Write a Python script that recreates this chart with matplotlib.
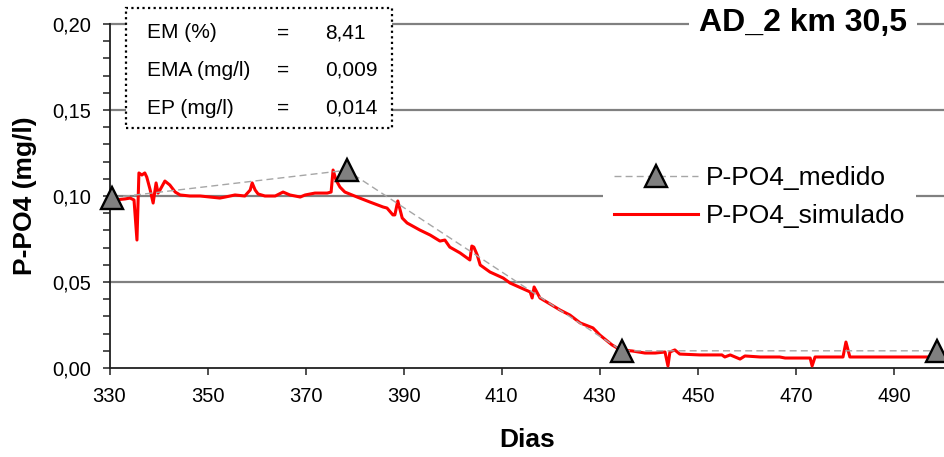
import matplotlib.pyplot as plt
from matplotlib.patches import Rectangle
from matplotlib.ticker import MultipleLocator, FuncFormatter

plt.rcParams['font.family'] = ['Liberation Sans', 'DejaVu Sans']

# P-PO4 medido (mg/l)
dia_medido = [330.5, 378.4, 434.5, 498.7]
p_medido = [0.099, 0.115, 0.010, 0.010]

# P-PO4 simulado (mg/l)
dia_simulado = [330.3, 331.1, 333.2, 334.2, 335.0, 335.6, 336.0, 336.6, 337.2, 337.6,
                338.3, 338.9, 339.5, 339.9, 340.3, 341.3, 342.3, 343.4, 344.4, 346.4,
                348.5, 350.5, 352.5, 353.6, 355.6, 357.6, 358.7, 359.1, 359.7, 360.3,
                361.7, 363.8, 365.4, 366.8, 368.9, 369.9, 371.9, 374.4, 375.2, 375.6,
                376.2, 377.0, 378.0, 380.5, 383.1, 385.8, 386.6, 387.8, 388.2, 388.8,
                389.7, 390.7, 393.3, 395.4, 397.4, 398.4, 399.4, 401.5, 403.5, 403.9,
                404.3, 405.0, 405.6, 407.6, 410.3, 411.7, 415.8, 416.2, 416.6, 417.8,
                419.5, 421.9, 423.9, 426.0, 428.6, 430.0, 432.5, 434.2, 436.6, 439.2,
                441.3, 443.3, 443.9, 444.3, 445.3, 446.3, 450.4, 454.9, 455.5, 456.6,
                458.6, 459.6, 462.7, 466.7, 467.8, 472.9, 473.3, 473.9, 479.6, 480.2,
                481.0, 498.5]
p_simulado = [0.0975, 0.0977, 0.0983, 0.0988, 0.0977, 0.0744, 0.1134, 0.1122, 0.1134, 0.1110,
              0.1035, 0.0959, 0.1076, 0.1017, 0.1035, 0.1087, 0.1064, 0.1023, 0.1006, 0.1000,
              0.1000, 0.0994, 0.0988, 0.0994, 0.1006, 0.1000, 0.1035, 0.1076, 0.1035, 0.1012,
              0.1000, 0.1000, 0.1023, 0.1006, 0.0994, 0.1006, 0.1017, 0.1017, 0.1023, 0.1151,
              0.1093, 0.1052, 0.1023, 0.0994, 0.0965, 0.0936, 0.0930, 0.0890, 0.0890, 0.0971,
              0.0872, 0.0843, 0.0802, 0.0773, 0.0738, 0.0744, 0.0703, 0.0669, 0.0628, 0.0709,
              0.0703, 0.0657, 0.0599, 0.0558, 0.0523, 0.0494, 0.0442, 0.0407, 0.0471, 0.0407,
              0.0378, 0.0337, 0.0308, 0.0262, 0.0233, 0.0192, 0.0134, 0.0105, 0.0099, 0.0087,
              0.0087, 0.0093, 0.0012, 0.0093, 0.0105, 0.0081, 0.0076, 0.0076, 0.0064, 0.0076,
              0.0052, 0.0070, 0.0064, 0.0064, 0.0058, 0.0058, 0.0012, 0.0064, 0.0064, 0.0151,
              0.0064, 0.0064]

estat_nomes = ["EM (%)", "EMA (mg/l)", "EP (mg/l)"]
estat_valores = ["8,41", "0,009", "0,014"]

W, H = 944, 457
fig = plt.figure(figsize=(W / 100, H / 100), dpi=100)
x0, y0, y1 = 109.5, 368, 24
ax = fig.add_axes([x0 / W, 1 - y0 / H, (W - x0) / W, (y0 - y1) / H])

ax.set_xlim(330, 500.2)
ax.set_ylim(0, 0.20)

# horizontal grid lines, the top one sits on the axes edge
for v in [0.05, 0.10, 0.15, 0.20]:
    ax.axhline(v, color='#808080', lw=1.6, zorder=1, clip_on=False)

ax.plot(dia_medido, p_medido, color='#A6A6A6', lw=1.0, dashes=(5, 3),
        marker='^', markersize=16.5, markerfacecolor='#808080',
        markeredgecolor='black', markeredgewidth=1.7,
        label='P-PO4_medido', zorder=4, clip_on=False)
ax.plot(dia_simulado, p_simulado, color='#FF0000', lw=2.2,
        label='P-PO4_simulado', zorder=3)

for s in ['top', 'right']:
    ax.spines[s].set_visible(False)
for s in ['left', 'bottom']:
    ax.spines[s].set_color('#202020')
    ax.spines[s].set_linewidth(1.3)

ax.set_xticks(range(330, 500, 20))
ax.yaxis.set_major_locator(MultipleLocator(0.05))
ax.yaxis.set_minor_locator(MultipleLocator(0.01))
ax.xaxis.set_major_formatter(FuncFormatter(lambda v, p: f"{v:.0f}"))
ax.yaxis.set_major_formatter(FuncFormatter(lambda v, p: f"{v:.2f}".replace('.', ',')))
ax.tick_params(axis='both', which='both', direction='out', length=5,
               width=1.1, color='#202020', labelsize=14.5)
ax.tick_params(axis='y', pad=8)
ax.tick_params(axis='x', pad=9)

ax.set_xlabel('Dias', fontsize=19, fontweight='bold')
ax.set_ylabel('P-PO4 (mg/l)', fontsize=19, fontweight='bold')
ax.xaxis.set_label_coords(0.5, -(440 - y0) / (y0 - y1))
ax.xaxis.label.set_va('center')
ax.yaxis.set_label_coords(-(x0 - 25) / (W - x0), 0.5)
ax.yaxis.label.set_va('center')

leg = ax.legend(loc='center left', bbox_to_anchor=(603 / W, 1 - 197 / H),
                bbox_transform=fig.transFigure, fontsize=19, frameon=True,
                framealpha=1, facecolor='white', edgecolor='none',
                fancybox=False, handlelength=3.2, handletextpad=0.3,
                labelspacing=0.55, borderpad=0.4, borderaxespad=0)
leg.set_zorder(6)

# statistics box with dotted frame
caixa = Rectangle((126 / W, 1 - 128 / H), (392 - 126) / W, 120 / H,
                  transform=fig.transFigure, facecolor='white',
                  edgecolor='black', linestyle=(0, (1, 1.5)), lw=1.6, zorder=5)
fig.patches.append(caixa)
for i, (nome, valor) in enumerate(zip(estat_nomes, estat_valores)):
    yy = 1 - (33 + 37.5 * i) / H
    fig.text(147 / W, yy, nome, fontsize=15, va='center', ha='left', zorder=6)
    fig.text(283 / W, yy, '=', fontsize=15, va='center', ha='center', zorder=6)
    fig.text(325 / W, yy, valor, fontsize=15, va='center', ha='left', zorder=6)

fig.text(803 / W, 1 - 23 / H, 'AD_2 km 30,5', fontsize=23, fontweight='bold',
         ha='center', va='center', zorder=6,
         bbox=dict(boxstyle='square,pad=0.3', facecolor='white', edgecolor='none'))

fig.savefig('out.png', dpi=100)
